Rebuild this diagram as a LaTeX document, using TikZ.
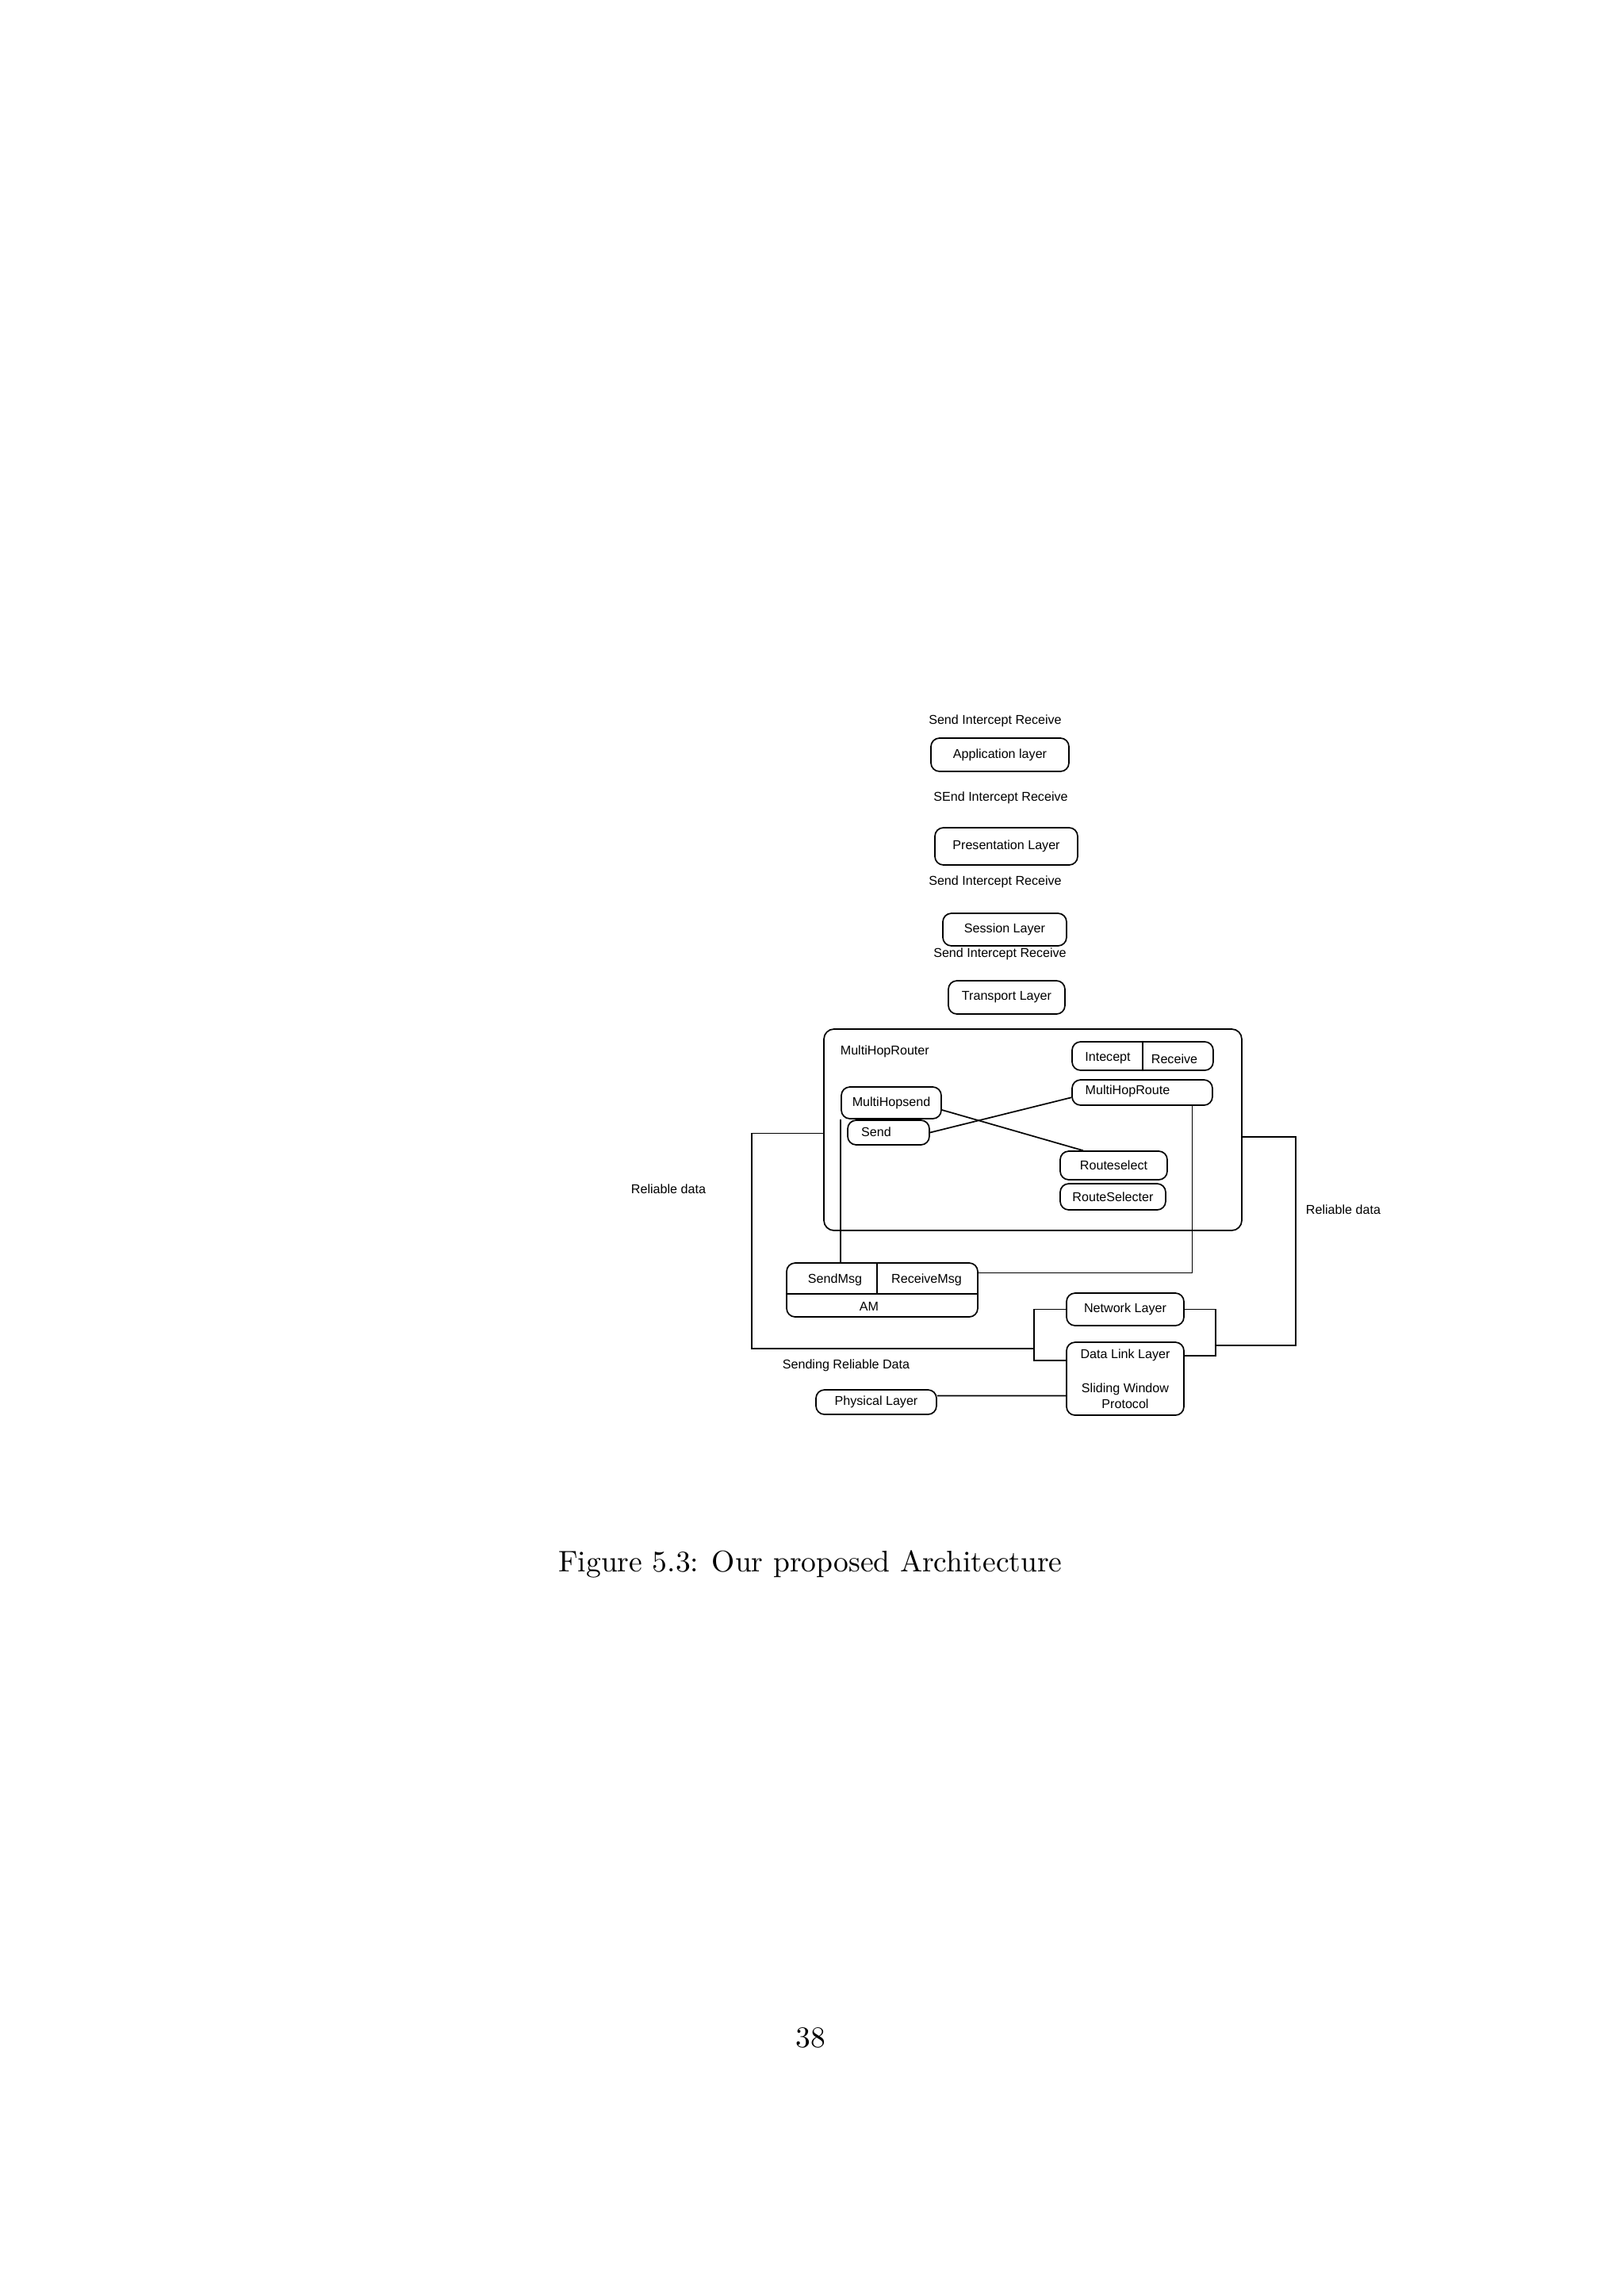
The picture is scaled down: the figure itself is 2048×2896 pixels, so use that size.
\documentclass[tikz,border=0pt]{standalone}
\usepackage{fontspec}
\newfontfamily\arial{Liberation Sans}
\newdimen\px \px=0.10254mm

\begin{document}
\begin{tikzpicture}[x=\px, y=-\px, line width=0.5pt,
  font=\arial\fontsize{4.7}{5.8}\selectfont,
  box/.style 2 args={draw, rounded corners=1.1mm, minimum width=#1*\px, minimum height=#2*\px, inner sep=0pt},
  lbl/.style={inner sep=0pt},
  pagefont/.style={font=\rmfamily\fontsize{10.95}{13.6}\selectfont}]
  \useasboundingbox (0,0) rectangle (2048,2896);
  % ---------------------------------------------------------------- upper layers
  \node[lbl] (sir1) at (1255,909) {Send Intercept Receive};
  \node[box={174}{42}] (app) at (1261,952) {Application layer};
  \node[lbl] (sir2) at (1262,1006) {SEnd Intercept Receive};
  \node[box={180}{47}] (pres) at (1269,1067.5) {Presentation Layer};
  \node[lbl] (sir3) at (1255,1112) {Send Intercept Receive};
  \node[box={156}{41}] (sess) at (1267,1172.5) {Session Layer};
  \node[lbl] (sir4) at (1261,1203) {Send Intercept Receive};
  \node[box={147}{42}] (trans) at (1269.5,1258) {Transport Layer};
  % ---------------------------------------------------------------- the router
  \node[box={527}{254}, rounded corners=1.3mm] (router) at (1302.5,1425) {};
  \node[lbl, anchor=west] (router-t) at (1059,1326) {MultiHopRouter};
  \node[box={178}{36}] (intrcv) at (1441,1332) {};
  \draw (intrcv.north) -- (intrcv.south);
  \node[lbl] (icpt) at (1397,1335) {Intecept};
  \node[lbl] (rcv) at (1481,1336) {Receive};
  \node[box={177}{32}] (mhroute) at (1440.5,1378) {};
  \node[lbl] (mhroute-t) at (1422,1376) {MultiHopRoute};
  \node[box={126}{40}] (mhsend) at (1124,1391) {MultiHopsend};
  \node[box={103}{31}] (send) at (1120.5,1428.5) {};
  \node[lbl] (send-t) at (1105,1428) {Send};
  \node[box={135}{36}] (rsel) at (1404.5,1470) {Routeselect};
  \node[box={133}{33}] (rselr) at (1403.5,1509.5) {RouteSelecter};
  % ---------------------------------------------------------------- AM
  \node[box={241}{68}] (am) at (1112.5,1627) {};
  \draw ([yshift=-5*\px]am.west) -- ([yshift=-5*\px]am.east);
  \draw ([xshift=-6.5*\px]am.north) -- ([xshift=-6.5*\px, yshift=-5*\px]am.center);
  \node[lbl] (sendmsg) at (1053,1614) {SendMsg};
  \node[lbl] (rcvmsg) at (1168.5,1614) {ReceiveMsg};
  \node[lbl] (am-t) at (1096,1648) {AM};
  % ---------------------------------------------------------------- lower layers
  \node[box={148}{41}] (net) at (1419,1651.5) {Network Layer};
  \node[box={148}{92}, align=center] (dll) at (1419,1739) {Data Link Layer\\[2.4mm]Sliding Window\\Protocol};
  \node[box={152}{31}] (phys) at (1105,1768.5) {Physical Layer};
  \node[lbl] (rel-l) at (843,1500) {Reliable data};
  \node[lbl] (rel-r) at (1694,1526) {Reliable data};
  \node[lbl] (srd) at (1067,1722) {Sending Reliable Data};
  % ---------------------------------------------------------------- connections
  \draw (send.east) -- (mhroute.184);
  \draw (mhsend.-8) -- (rsel.154);
  \draw (mhsend.south west) -- (mhsend.south west |- am.north);
  \draw (mhroute.-15) |- (am.10);
  \coordinate (lcorner) at (948,1701);
  \coordinate (lturn) at (1304,1701);
  \draw (router.181) -| (lcorner) -- (lturn) |- (net.west);
  \draw (lturn) |- (dll.163);
  \draw (phys.6) -- (dll.196);
  \coordinate (rcorner) at (1634,1697);
  \coordinate (rturn) at (1533,1697);
  \draw (router.-2) -| (rcorner) -- (rturn) |- (net.east);
  \draw (rturn) |- (dll.21);
  % ---------------------------------------------------------------- caption, page number
  \node[lbl, pagefont] (caption) at (1022,1973) {Figure 5.3: Our proposed Architecture};
  \node[lbl, pagefont] (pagenum) at (1022,2570) {38};
\end{tikzpicture}
\end{document}
